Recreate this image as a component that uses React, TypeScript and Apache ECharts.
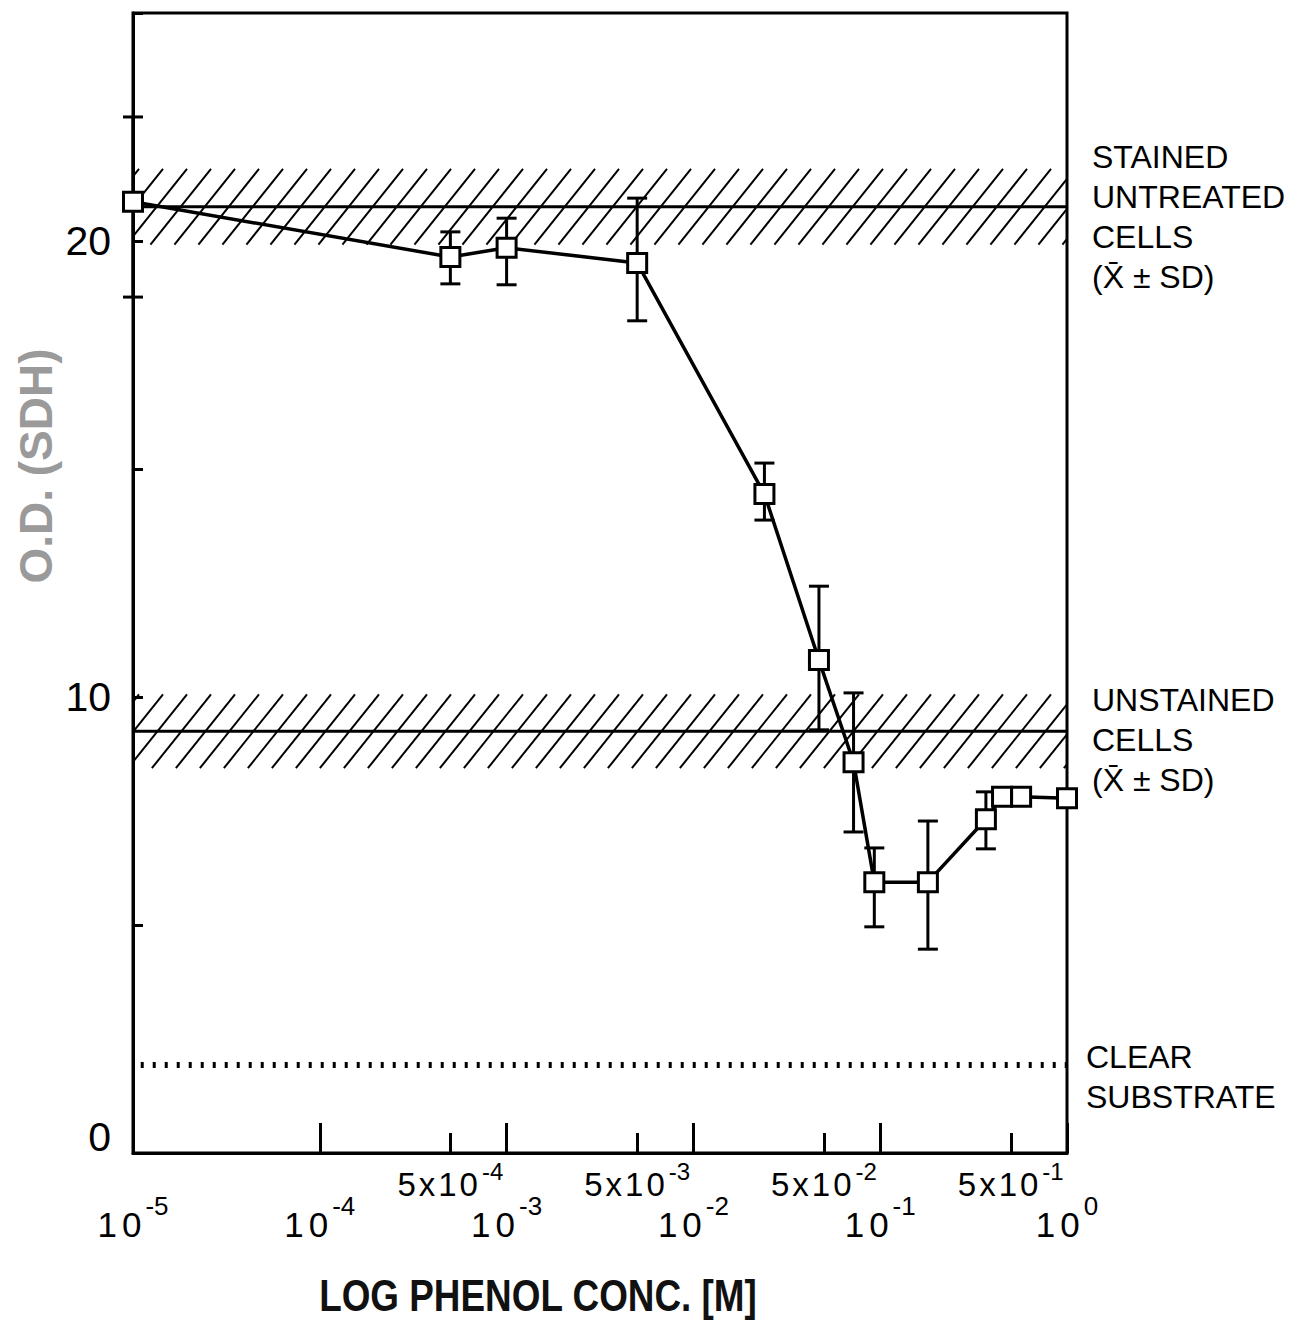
import React, { useEffect, useRef } from 'react';
import * as echarts from 'echarts';

// ---- data ----
const concentrations = [1e-5, 5e-4, 1e-3, 5e-3, 0.024, 0.047, 0.072, 0.093, 0.18, 0.368, 0.449, 0.568, 1];
const odValues = [20.86, 19.65, 19.85, 19.52, 14.45, 10.81, 8.57, 5.94, 5.94, 7.32, 7.81, 7.81, 7.78];
const errLow: (number | null)[] = [18.77, 19.06, 19.04, 18.25, 13.88, 9.28, 7.04, 4.96, 4.47, 6.67, null, null, null];
const errHigh: (number | null)[] = [22.72, 20.2, 20.5, 20.94, 15.13, 12.43, 10.09, 6.69, 7.28, 7.92, null, null, null];

const bandMeans = [20.75, 9.25];
const bandSDs = [0.83, 0.81];
const clearSubstrate = 1.93;

const X_MIN = 1e-5;
const X_MAX = 1;
const Y_MIN = 0;
const Y_MAX = 25;
const majorTicks = [1e-5, 1e-4, 1e-3, 1e-2, 1e-1, 1];
const minorTicks = [5e-4, 5e-3, 5e-2, 5e-1];

const stainedLabel = ['STAINED', 'UNTREATED', 'CELLS', '(X\u0304 \u00B1 SD)'];
const unstainedLabel = ['UNSTAINED', 'CELLS', '(X\u0304 \u00B1 SD)'];
const clearLabel = ['CLEAR', 'SUBSTRATE'];
const yTitle = 'O.D. (SDH)';
const xTitle = 'LOG PHENOL CONC. [M]';

const FONT = "'Liberation Sans', Arial, Helvetica, sans-serif";

export default function App() {
  const ref = useRef<HTMLDivElement>(null);

  useEffect(() => {
    document.body.style.margin = '0';
    document.body.style.overflow = 'hidden';
    const chart = echarts.init(ref.current!, null, { renderer: 'svg' });

    const expText = (v: number) => {
      const e = Math.floor(Math.log10(v) + 1e-6);
      return e === 0 ? '0' : '-' + -e;
    };

    const hatchData = bandMeans.map((m, i) => [X_MIN, X_MAX, m - bandSDs[i], m + bandSDs[i]]);
    const errData = concentrations
      .map((c, i) => (errLow[i] != null ? [c, errLow[i], errHigh[i]] : null))
      .filter((d) => d !== null);

    const option: any = {
      animation: false,
      backgroundColor: '#fff',
      grid: {
        left: 133,
        right: 232,
        top: 13,
        bottom: 169,
        show: true,
        borderColor: '#000',
        borderWidth: 3,
        containLabel: false,
        outerBoundsMode: 'none',
      },
      xAxis: [
        {
          type: 'log',
          logBase: 10,
          min: X_MIN,
          max: X_MAX,
          gridIndex: 0,
          position: 'bottom',
          axisLine: { show: true, lineStyle: { color: '#000', width: 3 } },
          axisTick: { show: true, inside: true, length: 30, lineStyle: { color: '#000', width: 3 }, customValues: majorTicks },
          splitLine: { show: false },
          minorTick: { show: false },
          axisLabel: {
            customValues: majorTicks,
            margin: 40,
            color: '#000',
            formatter: (v: number) => `{a|1}{b|0}{s|${expText(v)}}`,
            rich: {
              a: { fontSize: 35, fontFamily: FONT, lineHeight: 62, color: '#000', padding: [0, 5, 0, 0] },
              b: { fontSize: 35, fontFamily: FONT, lineHeight: 62, color: '#000' },
              s: { fontSize: 26, fontFamily: FONT, lineHeight: 20, verticalAlign: 'top', color: '#000', padding: [0, 0, 0, 4] },
            },
          },
        },
        {
          type: 'log',
          logBase: 10,
          min: X_MIN,
          max: X_MAX,
          gridIndex: 0,
          position: 'bottom',
          axisLine: { show: false },
          axisTick: { show: true, inside: true, length: 20, lineStyle: { color: '#000', width: 3 }, customValues: minorTicks },
          splitLine: { show: false },
          minorTick: { show: false },
          axisLabel: {
            customValues: minorTicks,
            margin: 6,
            color: '#000',
            formatter: (v: number) => `{m|5}{m|x}{m|1}{n|0}{s|${expText(v)}}`,
            rich: {
              m: { fontSize: 33, fontFamily: FONT, lineHeight: 50, color: '#000', padding: [0, 3, 0, 0] },
              n: { fontSize: 33, fontFamily: FONT, lineHeight: 50, color: '#000' },
              s: { fontSize: 24, fontFamily: FONT, lineHeight: 20, verticalAlign: 'top', color: '#000', padding: [0, 0, 0, 4] },
            },
          },
        },
      ],
      yAxis: {
        type: 'value',
        min: Y_MIN,
        max: Y_MAX,
        interval: 5,
        axisLine: { show: true, lineStyle: { color: '#000', width: 3 } },
        axisTick: { show: true, inside: true, length: 10, lineStyle: { color: '#000', width: 3 } },
        splitLine: { show: false },
        axisLabel: {
          margin: 22,
          formatter: (v: number) => (v === 0 ? '{z|0}' : v % 10 === 0 ? `{n|${v}}` : ''),
          rich: {
            n: { fontSize: 41, fontFamily: FONT, color: '#000' },
            z: { fontSize: 41, fontFamily: FONT, color: '#000', padding: [0, 0, 32, 0] },
          },
        },
      },
      series: [
        {
          type: 'custom',
          name: 'bands',
          xAxisIndex: 0,
          z: 1,
          silent: true,
          data: hatchData,
          encode: { x: [0, 1], y: [2, 3] },
          renderItem: (params: any, api: any) => {
            const p0 = api.coord([api.value(0), api.value(3)]);
            const p1 = api.coord([api.value(1), api.value(2)]);
            const x0 = p0[0];
            const x1 = p1[0];
            const yTop = p0[1];
            const yBot = p1[1];
            const H = yBot - yTop;
            const run = H / 1.25;
            const spacing = 24;
            const children: any[] = [];
            for (let xb = x0 - run + 6; xb < x1; xb += spacing) {
              let t0 = 0;
              let t1 = 1;
              if (xb < x0) t0 = (x0 - xb) / run;
              if (xb + run > x1) t1 = (x1 - xb) / run;
              if (t1 <= t0) continue;
              children.push({
                type: 'line',
                shape: {
                  x1: xb + t0 * run,
                  y1: yBot - t0 * H,
                  x2: xb + t1 * run,
                  y2: yBot - t1 * H,
                },
                style: { stroke: '#000', lineWidth: 2 },
              });
            }
            return { type: 'group', children };
          },
        },
        ...bandMeans.map((m) => ({
          type: 'line',
          xAxisIndex: 0,
          z: 2,
          silent: true,
          symbol: 'none',
          clip: false,
          data: [
            [X_MIN, m],
            [X_MAX, m],
          ],
          lineStyle: { color: '#000', width: 3 },
        })),
        {
          type: 'line',
          xAxisIndex: 0,
          z: 2,
          silent: true,
          symbol: 'none',
          data: [
            [X_MIN * 1.1, clearSubstrate],
            [X_MAX, clearSubstrate],
          ],
          lineStyle: { color: '#000', width: 6, type: [3, 9], cap: 'butt' },
        },
        {
          type: 'custom',
          name: 'error',
          xAxisIndex: 0,
          z: 3,
          silent: true,
          clip: false,
          data: errData,
          encode: { x: 0, y: [1, 2] },
          renderItem: (params: any, api: any) => {
            const lo = api.coord([api.value(0), api.value(1)]);
            const hi = api.coord([api.value(0), api.value(2)]);
            const half = 10;
            const st = { stroke: '#000', lineWidth: 3 };
            return {
              type: 'group',
              children: [
                { type: 'line', shape: { x1: lo[0], y1: lo[1], x2: hi[0], y2: hi[1] }, style: st },
                { type: 'line', shape: { x1: lo[0] - half, y1: lo[1], x2: lo[0] + half, y2: lo[1] }, style: st },
                { type: 'line', shape: { x1: hi[0] - half, y1: hi[1], x2: hi[0] + half, y2: hi[1] }, style: st },
              ],
            };
          },
        },
        {
          type: 'line',
          name: 'O.D.',
          xAxisIndex: 0,
          z: 4,
          clip: false,
          symbol: 'rect',
          symbolSize: 19,
          showSymbol: true,
          data: concentrations.map((c, i) => [c, odValues[i]]),
          lineStyle: { color: '#000', width: 3.5 },
          itemStyle: { color: '#fff', borderColor: '#000', borderWidth: 3 },
        },
      ],
      graphic: [
        {
          type: 'text',
          x: 36,
          y: 466,
          rotation: Math.PI / 2,
          style: {
            text: yTitle,
            font: `bold 46px ${FONT}`,
            fill: '#9a9a9a',
            textAlign: 'center',
            textVerticalAlign: 'middle',
          },
        },
        {
          type: 'text',
          x: 538,
          y: 1296,
          scaleX: 0.82,
          style: {
            text: xTitle,
            font: `bold 45px ${FONT}`,
            fill: '#111',
            textAlign: 'center',
            textVerticalAlign: 'middle',
          },
        },
        {
          type: 'text',
          x: 1092,
          y: 137,
          style: { text: stainedLabel.join('\n'), font: `32px ${FONT}`, lineHeight: 40, fill: '#000', textAlign: 'left', textVerticalAlign: 'top' },
        },
        {
          type: 'text',
          x: 1092,
          y: 680,
          style: { text: unstainedLabel.join('\n'), font: `32px ${FONT}`, lineHeight: 40, fill: '#000', textAlign: 'left', textVerticalAlign: 'top' },
        },
        {
          type: 'text',
          x: 1086,
          y: 1037,
          style: { text: clearLabel.join('\n'), font: `32px ${FONT}`, lineHeight: 40, fill: '#000', textAlign: 'left', textVerticalAlign: 'top' },
        },
      ],
    };

    chart.setOption(option);
    return () => chart.dispose();
  }, []);

  return <div ref={ref} style={{ width: 1299, height: 1322 }} />;
}
